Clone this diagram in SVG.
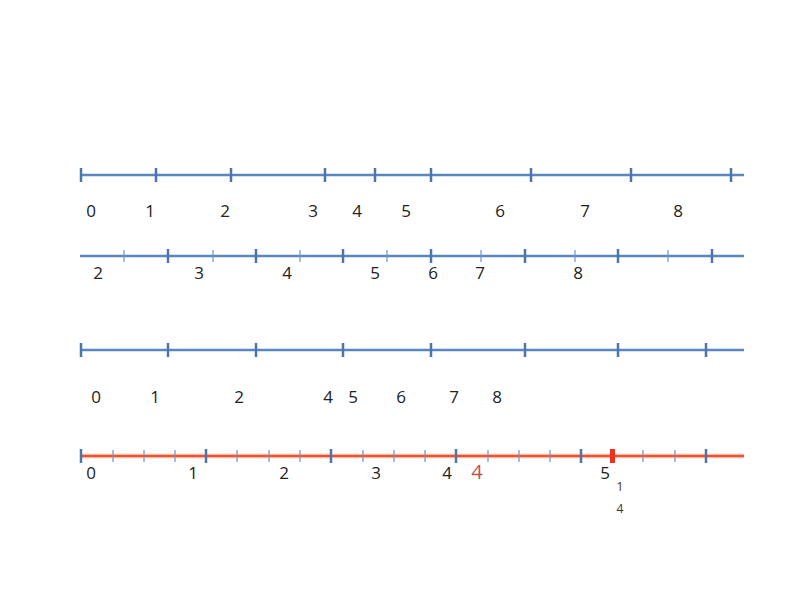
<svg xmlns="http://www.w3.org/2000/svg" width="800" height="600" viewBox="0 0 800 600">
<style>
.ax{stroke:#5a86bf;stroke-width:2.6;fill:none}
.axr{stroke:#f0512f;stroke-width:2.4;fill:none}
.glow{stroke:#f5b5a5;stroke-width:5;fill:none;opacity:0.5}
.mj{stroke:#4a76ac;stroke-width:2.5}
.mn{stroke:#6f93c2;stroke-width:1.2}
.lb{font-family:"Open Sans","Liberation Sans",sans-serif;font-size:17px;fill:#222;text-anchor:middle}
.sm{font-family:"Open Sans","Liberation Sans",sans-serif;font-size:12px;fill:#333;text-anchor:middle}
</style>
<rect width="800" height="600" fill="#fff"/>
<g id="line1">
<line class="ax" x1="80" y1="175" x2="744" y2="175"/>
<g class="mj">
<line x1="81" y1="168" x2="81" y2="182"/><line x1="156" y1="168" x2="156" y2="182"/><line x1="231" y1="168" x2="231" y2="182"/><line x1="325" y1="168" x2="325" y2="182"/><line x1="375" y1="168" x2="375" y2="182"/><line x1="431" y1="168" x2="431" y2="182"/><line x1="531" y1="168" x2="531" y2="182"/><line x1="631" y1="168" x2="631" y2="182"/><line x1="731" y1="168" x2="731" y2="182"/>
</g>
<text class="lb" x="91" y="217">0</text><text class="lb" x="150" y="217">1</text><text class="lb" x="225" y="217">2</text><text class="lb" x="313" y="217">3</text><text class="lb" x="357" y="217">4</text><text class="lb" x="406" y="217">5</text><text class="lb" x="500" y="217">6</text><text class="lb" x="585" y="217">7</text><text class="lb" x="678" y="217">8</text>
</g>
<g id="line2">
<line class="ax" x1="80" y1="256" x2="744" y2="256"/>
<g class="mj">
<line x1="168" y1="249" x2="168" y2="263"/><line x1="256" y1="249" x2="256" y2="263"/><line x1="343" y1="249" x2="343" y2="263"/><line x1="431" y1="249" x2="431" y2="263"/><line x1="525" y1="249" x2="525" y2="263"/><line x1="618" y1="249" x2="618" y2="263"/><line x1="712" y1="249" x2="712" y2="263"/>
</g>
<g class="mn">
<line x1="124" y1="250" x2="124" y2="262"/><line x1="213" y1="250" x2="213" y2="262"/><line x1="300" y1="250" x2="300" y2="262"/><line x1="387" y1="250" x2="387" y2="262"/><line x1="481" y1="250" x2="481" y2="262"/><line x1="575" y1="250" x2="575" y2="262"/><line x1="668" y1="250" x2="668" y2="262"/>
</g>
<text class="lb" x="98" y="279">2</text><text class="lb" x="199" y="279">3</text><text class="lb" x="287" y="279">4</text><text class="lb" x="375" y="279">5</text><text class="lb" x="433" y="279">6</text><text class="lb" x="480" y="279">7</text><text class="lb" x="578" y="279">8</text>
</g>
<g id="line3">
<line class="ax" x1="80" y1="350" x2="744" y2="350"/>
<g class="mj">
<line x1="81" y1="343" x2="81" y2="357"/><line x1="168" y1="343" x2="168" y2="357"/><line x1="256" y1="343" x2="256" y2="357"/><line x1="343" y1="343" x2="343" y2="357"/><line x1="431" y1="343" x2="431" y2="357"/><line x1="525" y1="343" x2="525" y2="357"/><line x1="618" y1="343" x2="618" y2="357"/><line x1="706" y1="343" x2="706" y2="357"/>
</g>
<text class="lb" x="96" y="403">0</text><text class="lb" x="155" y="403">1</text><text class="lb" x="239" y="403">2</text><text class="lb" x="328" y="403">4</text><text class="lb" x="353" y="403">5</text><text class="lb" x="401" y="403">6</text><text class="lb" x="454" y="403">7</text><text class="lb" x="497" y="403">8</text>
</g>
<g id="line4">
<line class="glow" x1="80" y1="456" x2="744" y2="456"/>
<line class="axr" x1="80" y1="456" x2="744" y2="456"/>
<g class="mj">
<line x1="81" y1="449" x2="81" y2="463"/><line x1="206" y1="449" x2="206" y2="463"/><line x1="331" y1="449" x2="331" y2="463"/><line x1="456" y1="449" x2="456" y2="463"/><line x1="581" y1="449" x2="581" y2="463"/><line x1="706" y1="449" x2="706" y2="463"/>
</g>
<g class="mn">
<line x1="113" y1="450" x2="113" y2="462"/><line x1="144" y1="450" x2="144" y2="462"/><line x1="175" y1="450" x2="175" y2="462"/><line x1="237" y1="450" x2="237" y2="462"/><line x1="269" y1="450" x2="269" y2="462"/><line x1="300" y1="450" x2="300" y2="462"/><line x1="363" y1="450" x2="363" y2="462"/><line x1="394" y1="450" x2="394" y2="462"/><line x1="425" y1="450" x2="425" y2="462"/><line x1="488" y1="450" x2="488" y2="462"/><line x1="519" y1="450" x2="519" y2="462"/><line x1="550" y1="450" x2="550" y2="462"/><line x1="643" y1="450" x2="643" y2="462"/><line x1="675" y1="450" x2="675" y2="462"/>
</g>
<rect x="610" y="449" width="5" height="14" fill="#f0301a"/>
<text class="lb" x="91" y="479">0</text><text class="lb" x="193" y="479">1</text><text class="lb" x="284" y="479">2</text><text class="lb" x="376" y="479">3</text><text class="lb" x="447" y="479">4</text>
<text class="lb" x="477" y="479" style="font-size:20px;fill:#c0504d">4</text>
<text class="lb" x="605" y="479">5</text>
<text class="sm" x="620" y="491">1</text>
<text class="sm" x="620" y="513">4</text>
</g>
</svg>
